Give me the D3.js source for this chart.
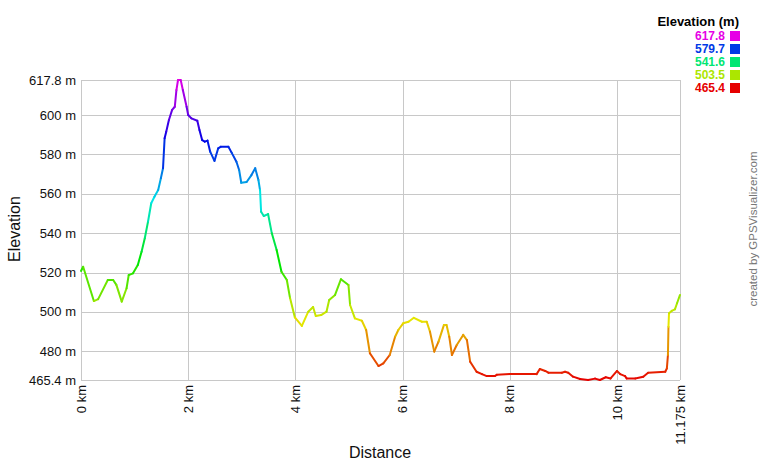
<!DOCTYPE html>
<html>
<head>
<meta charset="utf-8">
<script src="https://cdn.jsdelivr.net/npm/d3@7"></script>
<style>
  body { margin: 0; background: #fff; }
  text { font-family: "Liberation Sans", Arial, sans-serif; }
</style>
</head>
<body>
<div id="chart"></div>
<script>
// distance along track (km) and elevation (m)
const distKm = [0.00, 0.04, 0.24, 0.32, 0.50, 0.60, 0.66, 0.76, 0.85, 0.89, 0.97, 1.06, 1.13, 1.19, 1.25,
  1.31, 1.37, 1.44, 1.49, 1.53, 1.56, 1.59, 1.64, 1.70, 1.75, 1.78, 1.81, 1.86, 1.90, 1.97,
  2.00, 2.06, 2.17, 2.21, 2.26, 2.31, 2.36, 2.41, 2.49, 2.56, 2.61, 2.75, 2.81, 2.90, 2.95,
  2.99, 3.09, 3.18, 3.25, 3.31, 3.34, 3.36, 3.41, 3.49, 3.56, 3.65, 3.74, 3.84, 3.90, 3.99,
  4.12, 4.24, 4.33, 4.38, 4.48, 4.58, 4.63, 4.74, 4.85, 4.99, 5.02, 5.11, 5.24, 5.32, 5.39,
  5.55, 5.64, 5.76, 5.86, 5.92, 6.01, 6.11, 6.21, 6.36, 6.45, 6.51, 6.59, 6.67, 6.77, 6.82,
  6.87, 6.92, 7.01, 7.13, 7.20, 7.26, 7.38, 7.48, 7.57, 7.72, 7.76, 8.00, 8.50, 8.56, 8.66,
  8.72, 8.97, 9.03, 9.09, 9.18, 9.31, 9.46, 9.59, 9.68, 9.79, 9.88, 10.00, 10.06, 10.15, 10.18,
  10.34, 10.49, 10.58, 10.90, 10.93, 10.95, 10.96, 10.97, 11.02, 11.08, 11.12, 11.175];
const elevM = [520.8, 522.9, 505.5, 506.5, 516.2, 516.2, 513.7, 505.2, 512.0, 518.7, 519.6, 523.8, 530.6, 537.4, 545.8,
  555.2, 558.5, 561.9, 567.9, 573.0, 588.2, 591.5, 597.5, 602.6, 604.2, 612.7, 617.8, 617.8, 612.7, 604.2,
  600.0, 598.3, 597.1, 592.4, 587.3, 586.5, 587.0, 581.4, 576.7, 583.1, 583.9, 583.9, 580.9, 576.3, 572.1,
  565.6, 566.0, 569.5, 573.0, 567.0, 561.9, 550.9, 548.7, 549.7, 539.9, 531.4, 520.4, 516.2, 507.0, 497.2,
  492.9, 500.1, 502.5, 497.9, 498.4, 500.1, 506.0, 508.6, 516.6, 513.7, 503.5, 496.7, 495.5, 490.8, 479.0,
  472.5, 473.8, 478.1, 487.4, 490.8, 494.2, 495.0, 497.0, 495.0, 495.0, 490.0, 479.8, 484.9, 493.3, 493.3,
  487.4, 478.1, 483.2, 488.3, 485.7, 474.7, 469.6, 468.4, 467.4, 467.4, 468.1, 468.4, 468.4, 471.0, 470.0,
  469.1, 469.1, 469.6, 469.1, 467.1, 465.9, 465.4, 466.1, 465.4, 466.8, 466.2, 470.0, 468.4, 467.4, 466.2,
  466.2, 467.1, 469.1, 469.6, 471.3, 478.1, 492.5, 499.3, 500.5, 501.3, 504.4, 508.6];

const yTicks = [465.4, 480, 500, 520, 540, 560, 580, 600, 617.8];
const yTickLabels = ["465.4 m", "480 m", "500 m", "520 m", "540 m", "560 m", "580 m", "600 m", "617.8 m"];
const xTicks = [0, 2, 4, 6, 8, 10, 11.175];
const xTickLabels = ["0 km", "2 km", "4 km", "6 km", "8 km", "10 km", "11.175 km"];
const legendValues = [617.8, 579.7, 541.6, 503.5, 465.4];

const W = 760, H = 460;
const plot = { left: 81, right: 680, top: 80, bottom: 380 };

const svg = d3.select("#chart").append("svg")
  .attr("width", W).attr("height", H);

const x = d3.scaleLinear().domain([0, 11.175]).range([plot.left, plot.right]);
const y = d3.scaleLinear().domain([465.4, 617.8]).range([plot.bottom, plot.top]);

// elevation -> hue, red at the bottom through to magenta at the top
const hue = d3.scaleLinear().domain([465.4, 617.8]).range([0, 300]);
const colorOf = v => d3.hsl(hue(v), 1, 0.45).formatHex();

// grid
const grid = svg.append("g").attr("stroke", "#c8c8c8").attr("stroke-width", 1).attr("shape-rendering", "crispEdges");
grid.selectAll(".hg").data(yTicks).enter().append("line")
  .attr("x1", plot.left).attr("x2", plot.right)
  .attr("y1", d => Math.round(y(d)) + 0.5).attr("y2", d => Math.round(y(d)) + 0.5);
grid.selectAll(".vg").data(xTicks).enter().append("line")
  .attr("y1", plot.top).attr("y2", plot.bottom)
  .attr("x1", d => Math.round(x(d)) + 0.5).attr("x2", d => Math.round(x(d)) + 0.5);

// y tick labels
svg.selectAll(".ylab").data(yTicks).enter().append("text")
  .attr("x", plot.left - 5)
  .attr("y", d => y(d))
  .attr("dy", "0.35em")
  .attr("text-anchor", "end")
  .style("font-size", "13px")
  .style("fill", "#111")
  .text((d, i) => yTickLabels[i]);

// x tick labels, rotated
svg.selectAll(".xlab").data(xTicks).enter().append("text")
  .attr("transform", d => `translate(${x(d)},${plot.bottom + 5}) rotate(-90)`)
  .attr("dy", "0.35em")
  .attr("text-anchor", "end")
  .style("font-size", "13px")
  .style("fill", "#111")
  .text((d, i) => xTickLabels[i]);

// profile line, one segment per pair so each gets its own colour
const pts = distKm.map((d, i) => ({ d: d, e: elevM[i] }));
const segs = d3.pairs(pts);
svg.append("g").selectAll("line").data(segs).enter().append("line")
  .attr("x1", s => x(s[0].d)).attr("y1", s => y(s[0].e))
  .attr("x2", s => x(s[1].d)).attr("y2", s => y(s[1].e))
  .attr("stroke", s => colorOf((s[0].e + s[1].e) / 2))
  .attr("stroke-width", 2)
  .attr("stroke-linecap", "round");

// axis titles
svg.append("text")
  .attr("transform", `translate(20,229) rotate(-90)`)
  .attr("text-anchor", "middle")
  .style("font-size", "16px")
  .style("fill", "#111")
  .text("Elevation");

svg.append("text")
  .attr("x", 380).attr("y", 458)
  .attr("text-anchor", "middle")
  .style("font-size", "16px")
  .style("fill", "#111")
  .text("Distance");

// legend
svg.append("text")
  .attr("x", 739).attr("y", 26)
  .attr("text-anchor", "end")
  .style("font-size", "13px")
  .style("font-weight", "bold")
  .style("fill", "#000")
  .text("Elevation (m)");

const leg = svg.append("g").selectAll("g").data(legendValues).enter().append("g")
  .attr("transform", (d, i) => `translate(0,${36 + i * 13})`);
leg.append("rect")
  .attr("x", 730).attr("y", -5).attr("width", 10).attr("height", 10)
  .attr("fill", d => colorOf(d));
leg.append("text")
  .attr("x", 725).attr("y", 0).attr("dy", "0.35em")
  .attr("text-anchor", "end")
  .style("font-size", "12px")
  .style("font-weight", "bold")
  .style("fill", d => colorOf(d))
  .text(d => d.toFixed(1));

// credit
svg.append("text")
  .attr("transform", `translate(757,229) rotate(-90)`)
  .attr("text-anchor", "middle")
  .style("font-size", "11.5px")
  .style("fill", "#777")
  .text("created by GPSVisualizer.com");
</script>
</body>
</html>
